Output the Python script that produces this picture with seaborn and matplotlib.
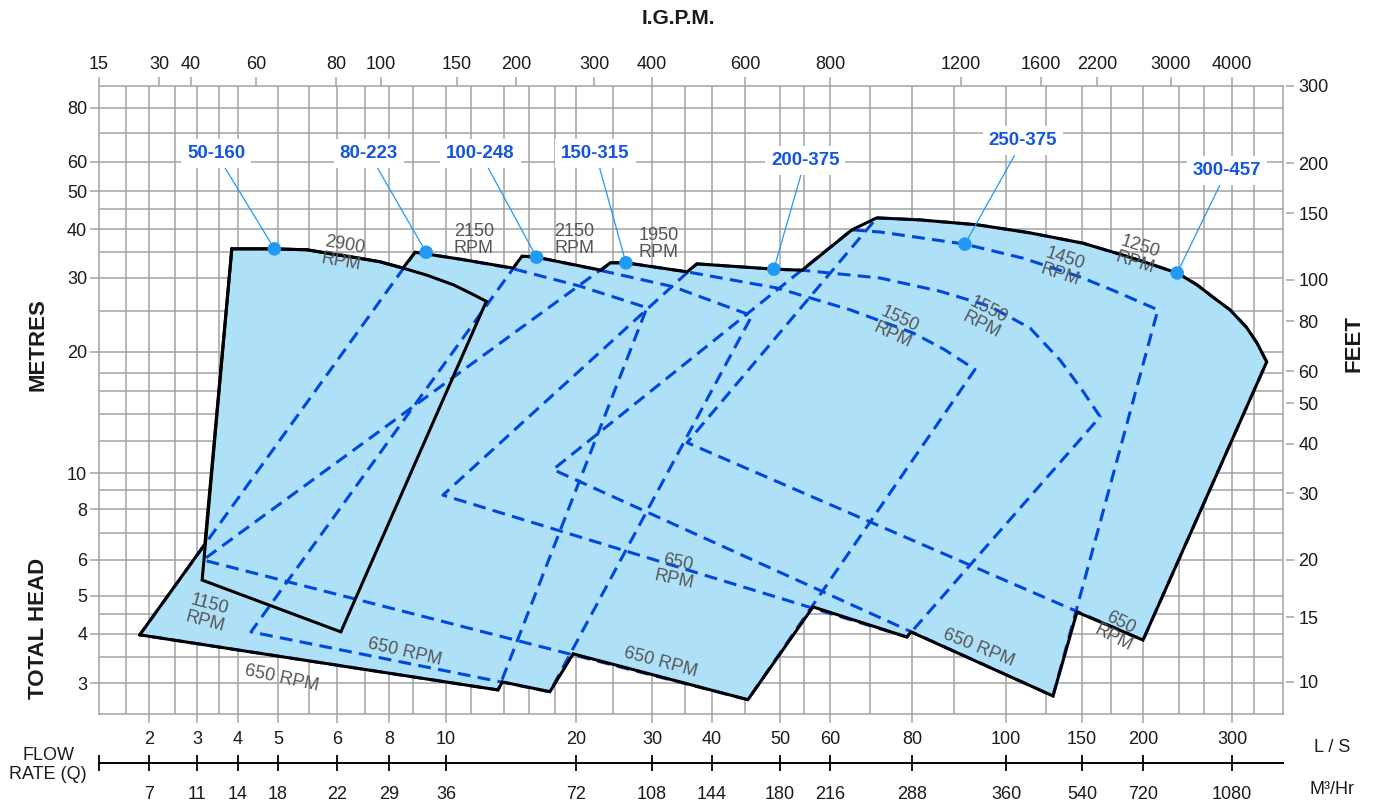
import numpy as np
import matplotlib
matplotlib.use("Agg")
import matplotlib.pyplot as plt
import seaborn as sns

# ---- axis values ----
LS_TICKS = [2, 3, 4, 5, 6, 8, 10, 20, 30, 40, 50, 60, 80, 100, 150, 200, 300]
M3H_LABELS = ["7", "11", "14", "18", "22", "29", "36", "72", "108", "144",
              "180", "216", "288", "360", "540", "720", "1080"]
IGPM_TICKS = [15, 30, 40, 60, 80, 100, 150, 200, 300, 400, 600, 800,
              1200, 1600, 2200, 3000, 4000]
M_TICKS = [3, 4, 5, 6, 8, 10, 20, 30, 40, 50, 60, 80]
FT_TICKS = [10, 15, 20, 30, 40, 50, 60, 80, 100, 150, 200, 300]
LS_GRID = [1.65, 2.5, 3.5, 5.5, 7, 8.8, 11.4, 13.6, 15.6, 17.9, 24.3, 35.1,
           44.6, 54.5, 69, 88.4, 123.8, 172, 235.6, 264, 331]
M_GRID = [3.5, 4.5, 7, 9, 12, 14, 16, 17.7, 25, 35, 45, 70]

# ---- pump coverage regions (flow L/S, head m): top curve, then bottom corners ----
P50_160_Q = [3.83, 4.89, 5.47, 5.93, 6.56, 7.61, 8.45, 9.28, 10.4, 11.4, 12.4, 6.13, 3.11]
P50_160_H = [35.6, 35.6, 35.4, 34.5, 33.9, 33.0, 31.8, 30.5, 28.9, 27.6, 26.4, 4.05, 5.42]
P80_223_Q = [8.86, 10.8, 14.1, 20.4, 29.2, 13.2, 1.85]
P80_223_H = [34.9, 33.5, 31.8, 28.7, 25.5, 2.88, 3.98]
P100_248_Q = [15.0, 16.2, 22.7, 33.2, 45.6, 17.4, 4.30]
P100_248_H = [34.1, 33.9, 31.4, 28.6, 24.4, 2.85, 4.05]
P150_315_Q = [24.0, 26.1, 35.5, 49.5, 64.4, 80.2, 86.3, 92.9, 45.0, 3.13]
P150_315_H = [32.8, 32.8, 31.1, 28.4, 25.2, 22.2, 20.3, 18.1, 2.72, 6.0]
P200_375_Q = [37.2, 49.0, 54.2, 71.5, 85.5, 96.2, 113.7, 133.4, 150, 163.4, 78.6, 9.88]
P200_375_H = [32.6, 31.6, 31.4, 30.0, 27.9, 25.7, 22.8, 19.1, 16.1, 13.8, 3.93, 8.72]
P250_375_Q = [64.8, 71.5, 90.7, 109.5, 148.3, 175.4, 214, 128.5, 17.7]
P250_375_H = [39.8, 39.3, 36.6, 33.7, 30.2, 27.9, 25.2, 2.78, 10.2]
P300_457_Q = [70.7, 81.5, 93.4, 113.7, 150.7, 190.8, 233.7, 255.8, 275.2, 297.3,
              320.4, 336.3, 351.4, 200, 35.5]
P300_457_H = [42.7, 42.2, 41.0, 39.1, 36.8, 33.7, 30.9, 28.9, 27.0, 25.2,
              22.9, 21.0, 18.9, 3.86, 11.9]

# outer envelope (solid black)
ENV_Q = [1.85, 3.17, 3.83, 4.89, 5.47, 5.93, 6.56, 7.61, 8.45, 8.86, 10.8, 14.3,
         15.0, 16.2, 22.9, 24.0, 26.1, 35.5, 37.2, 49.0, 54.2, 64.8, 70.7,
         81.5, 93.4, 113.7, 150.7, 190.8, 233.7, 255.8, 275.2, 297.3, 320.4,
         336.3, 351.4, 200, 146, 128.5, 79.7, 78.6, 56.4, 45.0, 19.7, 17.4,
         13.5, 13.2]
ENV_H = [3.98, 6.56, 35.6, 35.6, 35.4, 34.5, 33.9, 33.0, 31.8, 34.9, 33.5, 31.8,
         34.1, 33.9, 31.4, 32.8, 32.8, 31.1, 32.6, 31.6, 31.4, 39.8, 42.7,
         42.2, 41.0, 39.1, 36.8, 33.7, 30.9, 28.9, 27.0, 25.2, 22.9,
         21.0, 18.9, 3.86, 4.55, 2.78, 4.05, 3.93, 4.69, 2.72, 3.56, 2.85,
         3.02, 2.88]

# model labels and their rated points
MODELS = ["50-160", "80-223", "100-248", "150-315", "200-375", "250-375", "300-457"]
DOT_Q = [4.9, 9.25, 16.2, 26.1, 49.0, 90.7, 233.7]
DOT_H = [35.6, 34.9, 33.9, 32.8, 31.6, 36.6, 30.9]
LABEL_Q = [3.43, 7.16, 12.0, 22.2, 54.8, 109.5, 293.4]
LABEL_H = [62.9, 62.9, 62.9, 62.9, 60.6, 67.4, 57.0]

# speed notes
RPM_TEXT = ["2900\nRPM", "2150\nRPM", "2150\nRPM", "1950\nRPM", "1550\nRPM",
            "1550\nRPM", "1450\nRPM", "1250\nRPM", "1150\nRPM", "650 RPM",
            "650 RPM", "650\nRPM", "650 RPM", "650 RPM", "650\nRPM"]
RPM_Q = [6.2, 11.6, 19.8, 31.0, 75.7, 95.1, 135.5, 195.3, 3.22, 5.06, 8.51,
         33.7, 31.3, 93.8, 177]
RPM_H = [34.7, 37.5, 37.5, 36.6, 22.9, 24.1, 32.0, 34.4, 4.52, 3.08, 3.6,
         5.67, 3.38, 3.68, 4.09]
RPM_ROT = [-10, 0, 0, 0, -25, -27, -18, -18, -15, -12, -13, -12, -15, -22, -27]

# ---- layout: pixel positions of the printed ticks on this chart ----
W, H = 1373, 806
X0, X1, Y0, Y1 = 99, 1283, 86, 714
LS_PX = [149, 197, 238, 278, 337, 389, 446, 576, 652, 712, 780, 830, 912,
         1006, 1082, 1143, 1232]
IGPM_PX = [99, 159, 191, 256, 336, 381, 457, 516, 594, 652, 745, 830, 961,
           1041, 1097, 1171, 1232]
M_PX = [683, 634, 596, 560, 509, 473, 352, 278, 229, 191, 162, 108]
FT_PX = [682, 617, 560, 493, 444, 403, 371, 321, 280, 213, 163, 86]

GRID = "#a3a3a3"
FILL = "#aee1f8"
DASH = "#0047dd"
DOT = "#2299f5"
LBL = "#1457de"
RPMC = "#555555"


def chart_scale(ticks, px, down=False):
    # the printed scales are only roughly logarithmic: interpolate in log space
    lv = np.log10(np.asarray(ticks, float))
    p = -np.asarray(px, float) if down else np.asarray(px, float)

    def lin(x, xp, fp):
        x = np.asarray(x, float)
        y = np.interp(x, xp, fp)
        lo = fp[0] + (x - xp[0]) * (fp[1] - fp[0]) / (xp[1] - xp[0])
        hi = fp[-1] + (x - xp[-1]) * (fp[-1] - fp[-2]) / (xp[-1] - xp[-2])
        return np.where(x < xp[0], lo, np.where(x > xp[-1], hi, y))

    def fwd(v):
        v = np.clip(np.asarray(v, float), 1e-9, None)
        return lin(np.log10(v), lv, p)

    def inv(t):
        return 10 ** lin(t, p, lv)

    return fwd, inv


sns.set_theme(style="white")
plt.rcParams["font.family"] = ["Liberation Sans", "DejaVu Sans"]

fig = plt.figure(figsize=(W / 100, H / 100), dpi=100)
ax = fig.add_axes([X0 / W, 1 - Y1 / H, (X1 - X0) / W, (Y1 - Y0) / H])

fx, ix = chart_scale(LS_TICKS, LS_PX)
fy, iy = chart_scale(M_TICKS, M_PX, down=True)
ax.set_xscale("function", functions=(fx, ix))
ax.set_yscale("function", functions=(fy, iy))
xlim = (float(ix(X0)), float(ix(X1)))
ax.set_xlim(*xlim)
ax.set_ylim(float(iy(-Y1)), float(iy(-Y0)))

ax.set_xticks(LS_TICKS)
ax.set_xticklabels([str(v) for v in LS_TICKS])
ax.set_xticks(LS_GRID, minor=True)
ax.set_yticks(M_TICKS)
ax.set_yticklabels([str(v) for v in M_TICKS])
ax.set_yticks(M_GRID, minor=True)
ax.tick_params(which="major", length=6.5, width=1.1, color=GRID,
               labelsize=13, labelcolor="#1a1a1a")
ax.tick_params(which="minor", length=0)
ax.tick_params(axis="x", which="both", bottom=True, top=False, pad=6)
ax.tick_params(axis="y", which="both", left=True, right=False, pad=2)
ax.grid(which="both", color=GRID, lw=1.1)
ax.set_axisbelow(True)
for s in ax.spines.values():
    s.set_color(GRID)
    s.set_linewidth(1.1)

# filled coverage
regions = [(P50_160_Q, P50_160_H), (P80_223_Q, P80_223_H), (P100_248_Q, P100_248_H),
           (P150_315_Q, P150_315_H), (P200_375_Q, P200_375_H),
           (P250_375_Q, P250_375_H), (P300_457_Q, P300_457_H)]
for q, h in regions:
    ax.fill(q, h, color=FILL, lw=0, zorder=1)

# dashed outlines of the larger models
for q, h in regions[1:]:
    ax.plot(q + q[:1], h + h[:1], color=DASH, lw=2.2, ls=(0, (4.2, 2.4)),
            zorder=2)

# solid envelope and the 50-160 region
ax.plot(ENV_Q + ENV_Q[:1], ENV_H + ENV_H[:1], color="black", lw=2.2, zorder=3,
        solid_joinstyle="miter")
ax.plot(P50_160_Q + P50_160_Q[:1], P50_160_H + P50_160_H[:1], color="black",
        lw=2.2, zorder=3, solid_joinstyle="miter")

for t, q, h, r in zip(RPM_TEXT, RPM_Q, RPM_H, RPM_ROT):
    ax.text(q, h, t, rotation=r, rotation_mode="anchor", ha="center",
            va="center", fontsize=13, color=RPMC, linespacing=1.0, zorder=3.5)

# model call-outs
for q0, h0, q1, h1 in zip(LABEL_Q, LABEL_H, DOT_Q, DOT_H):
    ax.plot([q0, q1], [h0, h1], color=DOT, lw=0.9, zorder=4)
sns.scatterplot(x=DOT_Q, y=DOT_H, s=95, color=DOT, edgecolor="none",
                ax=ax, zorder=5)
for name, q, h in zip(MODELS, LABEL_Q, LABEL_H):
    ax.text(q, h, name, ha="center", va="center", fontsize=13.5,
            fontweight="bold", color=LBL, zorder=6,
            bbox=dict(boxstyle="square,pad=0.32", fc="white", ec="none"))

# top axis: I.G.P.M.
ax_top = ax.twiny()
ft, it = chart_scale(IGPM_TICKS, IGPM_PX)
ax_top.set_xscale("function", functions=(ft, it))
ax_top.set_xlim(float(it(X0)), float(it(X1)))
ax_top.set_xticks(IGPM_TICKS)
ax_top.set_xticklabels([str(v) for v in IGPM_TICKS])
ax_top.tick_params(axis="x", top=True, bottom=False, labeltop=True,
                   labelbottom=False, length=6.5, width=1.1, color=GRID,
                   labelsize=13, labelcolor="#1a1a1a", pad=3)
for s in ax_top.spines.values():
    s.set_visible(False)

# right axis: feet
ax_r = ax.twinx()
fr, ir = chart_scale(FT_TICKS, FT_PX, down=True)
ax_r.set_yscale("function", functions=(fr, ir))
ax_r.set_ylim(float(ir(-Y1)), float(ir(-Y0)))
ax_r.set_yticks(FT_TICKS)
ax_r.set_yticklabels([str(v) for v in FT_TICKS])
for s in ax_r.spines.values():
    s.set_visible(False)
ax_r.spines["right"].set_position(("outward", 2))
ax_r.tick_params(axis="y", right=True, left=False, labelright=True,
                 labelleft=False, length=6, width=1.1, color=GRID,
                 labelsize=13, labelcolor="#1a1a1a", pad=3)

# lower flow scale in m3/hr
ax_m = ax.twiny()
ax_m.set_xscale("function", functions=(fx, ix))
ax_m.set_xlim(*xlim)
ax_m.xaxis.tick_bottom()
for s in ax_m.spines.values():
    s.set_visible(False)
ax_m.spines["bottom"].set_visible(True)
ax_m.spines["bottom"].set_position(("outward", 35))
ax_m.spines["bottom"].set_color("black")
ax_m.spines["bottom"].set_linewidth(1.4)
ax_m.set_xticks([xlim[0] * 1.003] + LS_TICKS)
ax_m.set_xticklabels([""] + M3H_LABELS)
ax_m.tick_params(axis="x", bottom=True, top=False, labelbottom=True,
                 labeltop=False, direction="inout", length=11.5, width=1.3,
                 color="black", labelsize=13, labelcolor="#1a1a1a", pad=11)

# titles
fig.text(678 / W, 1 - 18 / H, "I.G.P.M.", ha="center", va="center",
         fontsize=15, fontweight="bold", color="#1a1a1a")
fig.text(38 / W, 1 - 345 / H, "METRES", rotation=90, ha="center", va="center",
         fontsize=16, fontweight="bold", color="#1a1a1a")
fig.text(38 / W, 1 - 628 / H, "TOTAL HEAD", rotation=90, ha="center",
         va="center", fontsize=16, fontweight="bold", color="#1a1a1a")
fig.text(1354 / W, 1 - 344 / H, "FEET", rotation=90, ha="center", va="center",
         fontsize=16, fontweight="bold", color="#1a1a1a")
fig.text(48 / W, 1 - 765 / H, "FLOW\nRATE (Q)", ha="center", va="center",
         fontsize=13, linespacing=1.1, color="#1a1a1a")
fig.text(1332 / W, 1 - 747 / H, "L / S", ha="center", va="center",
         fontsize=13, color="#1a1a1a")
fig.text(1332 / W, 1 - 790 / H, "M³/Hr", ha="center", va="center",
         fontsize=13, color="#1a1a1a")

fig.savefig("out.png", dpi=100)
